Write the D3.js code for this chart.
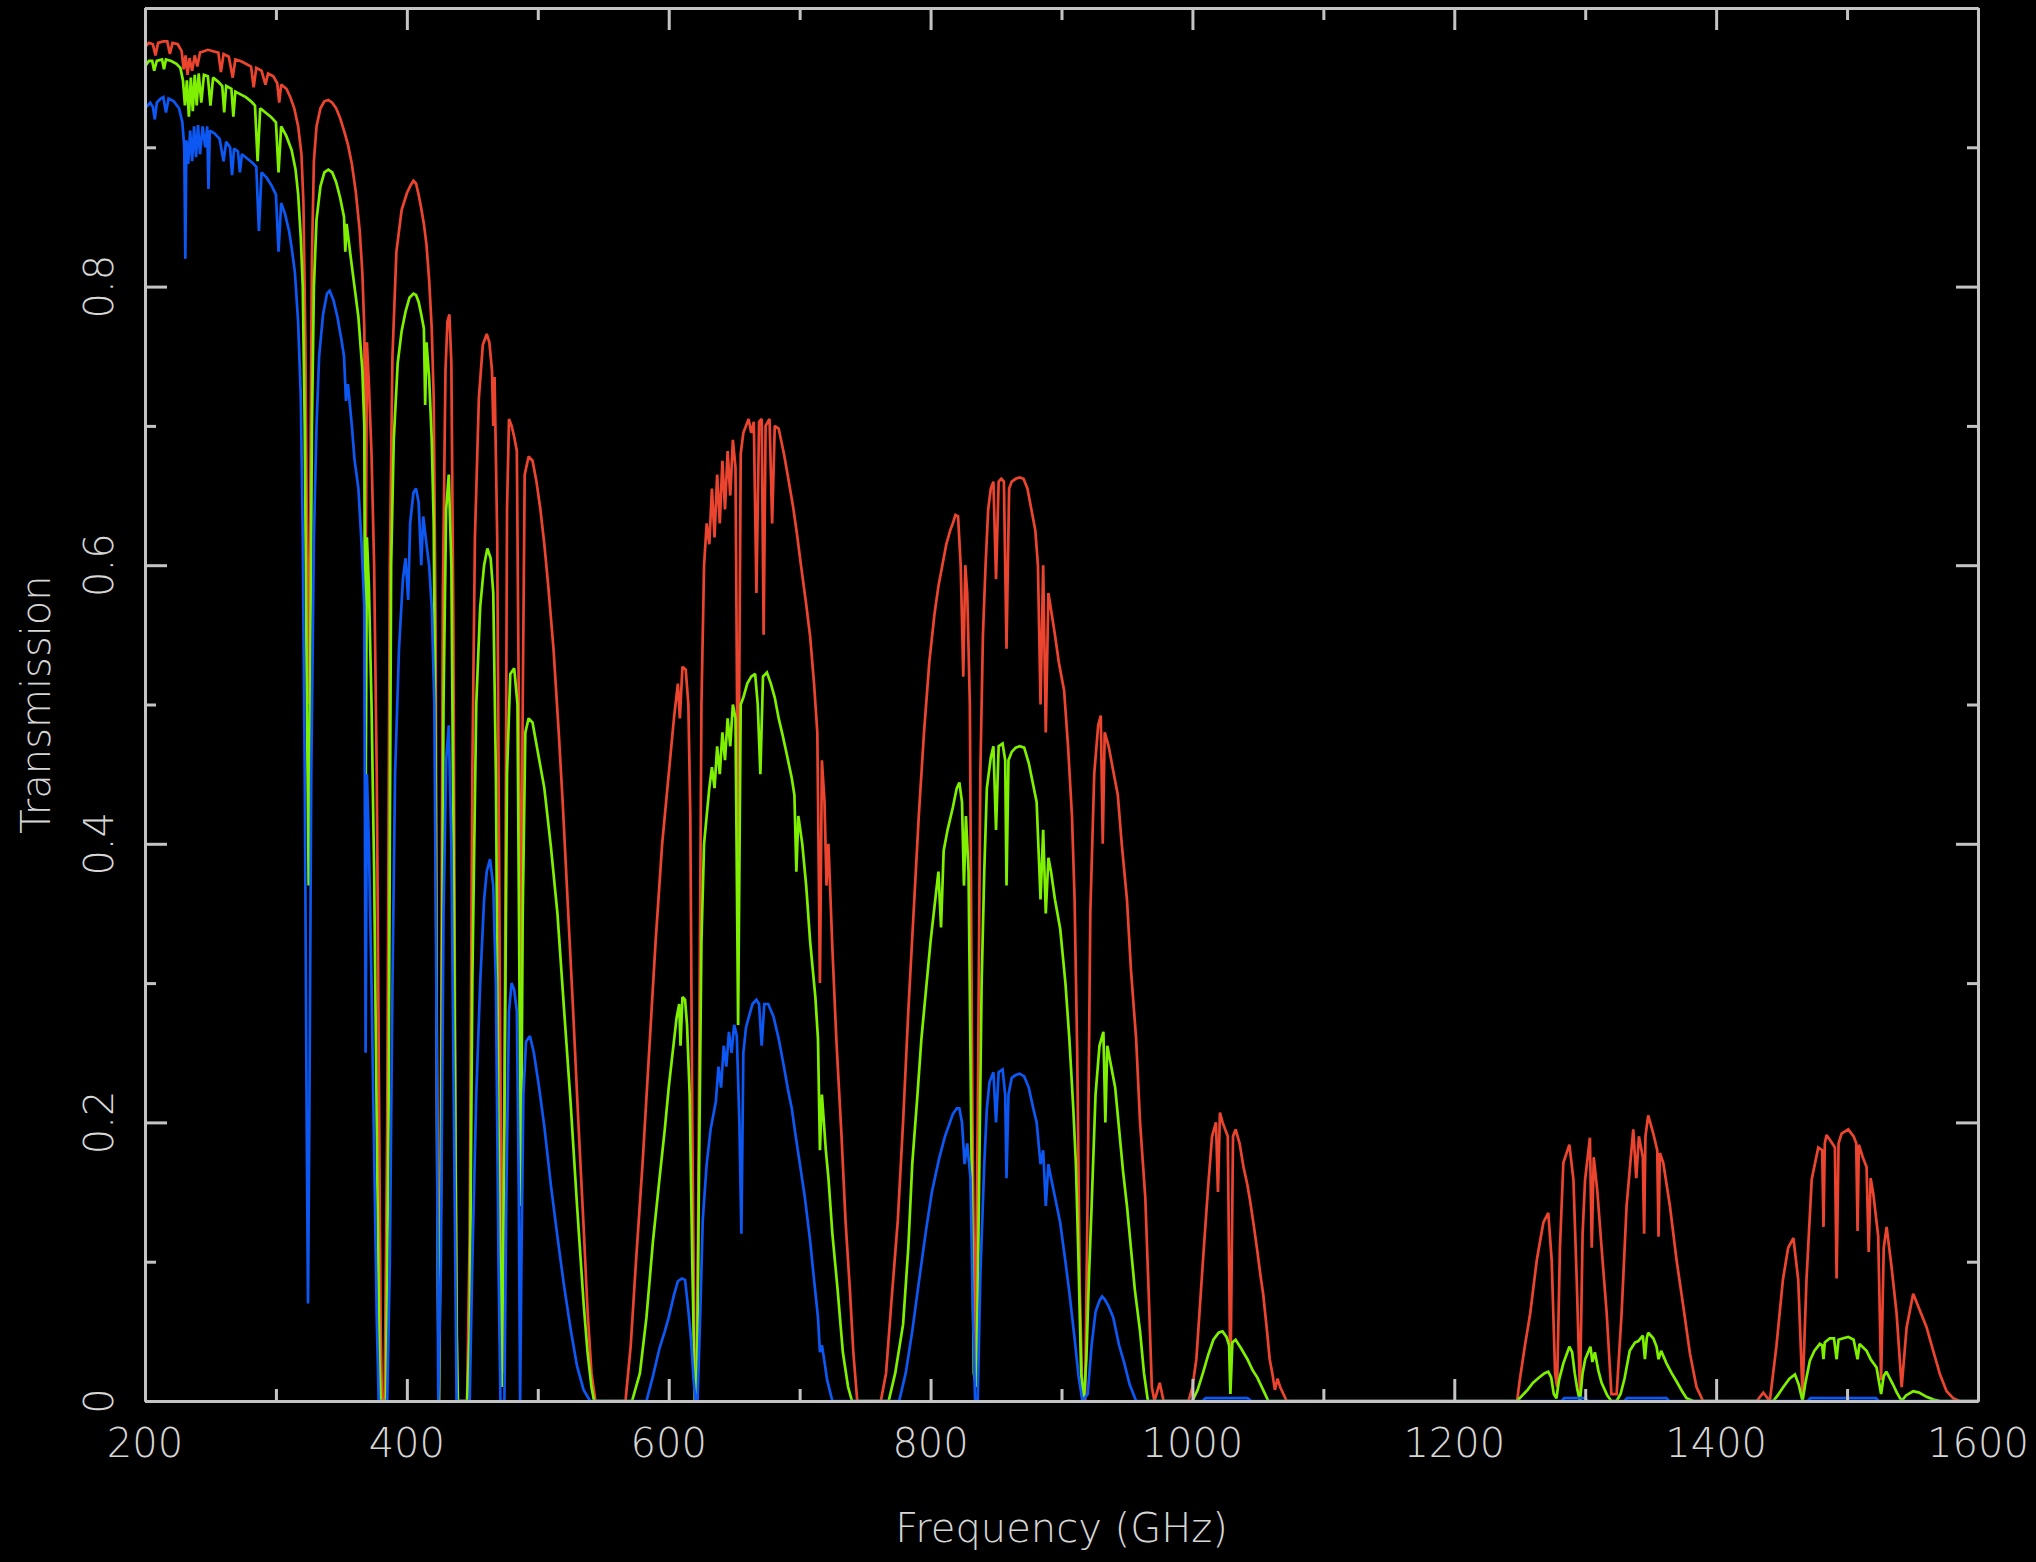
<!DOCTYPE html>
<html>
<head>
<meta charset="utf-8">
<title>Atmospheric transmission</title>
<script src="https://cdn.jsdelivr.net/npm/d3@7"></script>
<style>
  html, body { margin: 0; padding: 0; background: #000; }
  svg { display: block; }
  text { font-family: "DejaVu Sans", sans-serif; font-weight: 200; fill: #d6d6d6; }
</style>
</head>
<body>
<svg id="chart" width="2036" height="1562"></svg>
<script>
// Axis ticks and labels
const xMajorTicks = [200, 400, 600, 800, 1000, 1200, 1400, 1600];
const xMinorTicks = [300, 500, 700, 900, 1100, 1300, 1500];
const xTickLabels = ["200", "400", "600", "800", "1000", "1200", "1400", "1600"];
const yMajorTicks = [0, 0.2, 0.4, 0.6, 0.8, 1.0];
const yMinorTicks = [0.1, 0.3, 0.5, 0.7, 0.9];
const yLabelValues = [0, 0.2, 0.4, 0.6, 0.8];
const yTickLabels = ["0", "0.2", "0.4", "0.6", "0.8"];

// Transmission spectra, [frequency GHz, transmission], driest column first
const transLow = [
  [200,0.972],[203,0.975],[206,0.974],[208,0.966],[210,0.975],[214,0.976],[217,0.976],[219,0.967],[221,0.975],[225,0.974],
  [228,0.969],[229.5,0.956],[231,0.966],[232.5,0.952],[234,0.964],[236,0.955],[238,0.966],[240,0.958],[242,0.968],[245,0.969],
  [248,0.97],[252,0.969],[256,0.968],[258,0.954],[260,0.967],[264,0.965],[267,0.95],[269,0.963],[273,0.962],[277,0.96],
  [281,0.958],[283,0.943],[285,0.957],[289,0.955],[292,0.945],[294,0.953],[298,0.951],[301,0.946],[302.5,0.932],[304,0.945],
  [308,0.942],[311,0.936],[314,0.928],[317,0.915],[319.5,0.895],[321,0.86],[322.5,0.76],[324,0.58],[325,0.5],[326,0.62],
  [327.5,0.82],[329,0.89],[331,0.915],[334,0.928],[337,0.933],[340,0.934],[343,0.932],[346,0.928],[349,0.921],[352,0.912],
  [355,0.902],[358,0.888],[361,0.868],[364,0.84],[366,0.81],[367.5,0.77],[368.5,0.58],[369.5,0.76],[371,0.73],[373,0.68],
  [375,0.6],[377,0.45],[378.5,0.25],[380,0.05],[381,0],[383,0],[385,0.2],[387,0.6],[389,0.75],[392,0.825],
  [396,0.855],[400,0.867],[403,0.873],[405,0.876],[407,0.874],[409,0.866],[411,0.856],[413,0.845],[415,0.83],[417,0.805],
  [419,0.77],[420.5,0.72],[422,0.55],[423,0.22],[424.5,0],[426,0.2],[427.5,0.58],[429.5,0.74],[431,0.775],[432.5,0.78],
  [434,0.745],[435.5,0.56],[437,0.22],[438.5,0],[446,0],[448,0.12],[450,0.45],[452,0.62],[455,0.72],[458,0.758],
  [461,0.766],[463,0.76],[465,0.74],[466,0.7],[467,0.735],[469,0.62],[471,0.3],[473,0.02],[475,0.3],[476.5,0.64],
  [478,0.705],[480,0.7],[482,0.692],[484,0.682],[485.5,0.5],[487,0.28],[488.5,0.5],[490,0.665],[493,0.678],[496,0.675],
  [499,0.66],[502,0.64],[505,0.615],[508,0.585],[512,0.54],[516,0.48],[519,0.43],[523,0.355],[527,0.28],[531,0.2],
  [535,0.125],[538,0.065],[541,0.02],[544,0],
  [567,0],[571,0.04],[575,0.1],[580,0.17],[585,0.25],[590,0.33],[595,0.4],[600,0.45],[604,0.49],[607,0.515],
  [608.5,0.49],[610.5,0.527],[613,0.525],[615,0.5],[616.5,0.42],[618,0.2],[620,0],[621.5,0],[623,0.2],[625,0.5],
  [627,0.6],[629,0.63],[631,0.615],[633,0.655],[635,0.62],[637,0.665],[639,0.63],[641,0.675],[643,0.64],[645,0.682],
  [647,0.65],[649,0.69],[651,0.67],[653,0.39],[655,0.68],[657,0.695],[659,0.7],[661,0.705],[663,0.695],[665,0.703],
  [667,0.58],[669,0.703],[671,0.705],[672.5,0.55],[674,0.7],[677,0.705],[679,0.63],[681,0.7],[684,0.698],[688,0.68],
  [691,0.664],[695,0.642],[698,0.622],[701,0.6],[705,0.572],[708,0.549],[711,0.515],[713.5,0.48],[715.5,0.3],[717,0.46],
  [719,0.43],[720.5,0.37],[722,0.4],[725,0.325],[728,0.26],[732,0.19],[735,0.13],[738.5,0.078],[741,0.035],[744,0],
  [762,0],[766,0.02],[770,0.07],[775,0.13],[779,0.2],[783,0.28],[787,0.35],[791,0.42],[795,0.48],[799,0.53],
  [803,0.565],[806,0.585],[809,0.6],[812,0.615],[815,0.625],[817,0.63],[819,0.636],[821,0.635],[823,0.6],[825,0.52],
  [826.5,0.6],[828,0.58],[830,0.5],[832,0.2],[834,0.02],[836,0.2],[838,0.45],[840,0.55],[842,0.6],[844,0.64],
  [846,0.655],[848,0.66],[850,0.59],[852,0.66],[854,0.662],[856,0.66],[858,0.54],[860,0.655],[862,0.66],[865,0.662],
  [868,0.663],[871,0.662],[874,0.655],[877,0.64],[880,0.625],[882,0.6],[884,0.5],[886,0.6],[888,0.48],[890,0.58],
  [892,0.568],[895,0.55],[898,0.53],[902,0.51],[905,0.47],[908,0.42],[910,0.36],[912,0.25],[914,0.08],[916,0],
  [918,0],[920,0.15],[922,0.35],[925,0.45],[928,0.485],[930,0.492],[931.5,0.4],[933,0.48],[936,0.47],[940,0.45],
  [943,0.435],[946,0.4],[950,0.36],[953,0.31],[957,0.26],[960,0.2],[964,0.146],[966.5,0.08],[969,0.01],[971,0],
  [975,0.013],[978,0],
  [997,0],[1000,0.01],[1003,0.03],[1008,0.1],[1012,0.154],[1015,0.19],[1018,0.2],[1019.5,0.15],[1021,0.207],[1023,0.2],
  [1025,0.195],[1027,0.19],[1029,0.01],[1031,0.19],[1033,0.195],[1036,0.185],[1039,0.168],[1042,0.155],[1044,0.144],[1047,0.125],
  [1049.5,0.108],[1052,0.09],[1054,0.077],[1057,0.05],[1059,0.03],[1061,0.02],[1063,0.008],[1065,0.016],[1067,0.01],[1072,0],
  [1248,0],[1250,0.015],[1254,0.04],[1258,0.063],[1263,0.101],[1268,0.128],[1271.8,0.135],[1274.4,0.101],[1277,0.02],[1278.5,0.01],
  [1280.7,0.11],[1283.3,0.171],[1287.9,0.184],[1291,0.159],[1293.5,0.087],[1296,0.005],[1298,0.12],[1299.9,0.159],[1303.6,0.189],[1305,0.11],
  [1306.5,0.175],[1309.2,0.151],[1312.5,0.11],[1316.4,0.063],[1320,0.005],[1324,0.005],[1327.8,0.063],[1331.6,0.14],[1336.7,0.195],[1339,0.16],
  [1341,0.19],[1344,0.175],[1345,0.12],[1346,0.19],[1348.1,0.205],[1352,0.192],[1355,0.18],[1356,0.118],[1357,0.178],[1359.6,0.171],
  [1364.7,0.14],[1369.8,0.101],[1374.9,0.068],[1380,0.034],[1385,0.01],[1390,0],
  [1431,0],[1436,0.006],[1441,0],[1446,0.039],[1451,0.087],[1455,0.11],[1459,0.117],[1462.7,0.087],[1466,0.005],[1469,0.087],
  [1473,0.159],[1478,0.182],[1481,0.18],[1482,0.125],[1483,0.185],[1484.3,0.191],[1488,0.186],[1490.7,0.182],[1492,0.088],[1493.5,0.185],
  [1495.8,0.192],[1500.9,0.195],[1505,0.19],[1507,0.185],[1508,0.122],[1509,0.184],[1512,0.175],[1514.9,0.168],[1516.5,0.107],[1518,0.16],
  [1520,0.149],[1523.8,0.118],[1526,0.015],[1528,0.11],[1530.2,0.125],[1534,0.096],[1537.8,0.063],[1541.7,0.01],[1545.5,0.053],[1550.5,0.077],
  [1555.6,0.065],[1560.7,0.053],[1565.8,0.036],[1571,0.019],[1576,0.007],[1581,0.002],[1586,0],[1600,0]
];

const transMid = [
  [200,0.958],[203,0.962],[205.5,0.962],[207,0.955],[209,0.962],[213,0.963],[214.5,0.956],[216,0.963],[220,0.962],[224,0.96],
  [227,0.957],[229,0.948],[230.5,0.93],[232,0.948],[233.5,0.922],[235,0.95],[236.5,0.926],[238,0.952],[239.5,0.93],[241,0.953],
  [243,0.932],[245,0.952],[248,0.951],[250,0.93],[252,0.95],[256,0.947],[259,0.944],[260.5,0.925],[262,0.944],[266,0.942],
  [267.5,0.922],[269,0.94],[273,0.938],[277,0.936],[281,0.933],[284,0.93],[286,0.89],[288,0.928],[292,0.925],[296,0.922],
  [300,0.918],[302,0.882],[304,0.915],[308,0.908],[312,0.898],[315,0.884],[317,0.866],[319,0.835],[320.5,0.8],[322,0.7],
  [323.5,0.52],[325,0.37],[326,0.5],[327.5,0.7],[329,0.8],[331,0.848],[334,0.872],[337,0.882],[340,0.884],[343,0.882],
  [346,0.875],[349,0.864],[352,0.85],[353,0.825],[354,0.845],[357,0.822],[360,0.8],[363,0.778],[366,0.74],[367.5,0.7],
  [368.5,0.42],[369.5,0.62],[371,0.585],[373,0.5],[375,0.38],[377,0.2],[379,0.03],[380,0],[384,0],[386,0.2],
  [388,0.6],[390,0.69],[393,0.745],[396,0.768],[399,0.782],[402,0.792],[405,0.795],[407,0.794],[409,0.789],[411,0.78],
  [413,0.77],[414,0.715],[415,0.76],[417,0.735],[419,0.69],[420.5,0.63],[422,0.45],[423.5,0.1],[424.5,0],[426,0.15],
  [428,0.5],[430,0.64],[432,0.665],[434,0.6],[436,0.35],[438,0.05],[439,0],[446,0],[448,0.05],[450,0.3],
  [453,0.5],[456,0.57],[459,0.6],[461.5,0.612],[464,0.605],[466,0.58],[468,0.45],[470,0.2],[472.5,0.01],[474.5,0.2],
  [476.5,0.45],[479,0.522],[482,0.526],[484.5,0.5],[486,0.3],[487,0.14],[488.5,0.35],[490.5,0.48],[493,0.49],[496,0.487],
  [500,0.466],[505,0.44],[510,0.398],[515,0.35],[520,0.282],[525,0.215],[530,0.14],[535,0.07],[538,0.035],[541,0.01],
  [543,0],
  [572,0],[578,0.02],[583,0.06],[588,0.115],[593,0.16],[597,0.195],[600,0.225],[603,0.25],[606,0.275],[608,0.285],
  [609,0.255],[610.5,0.29],[612.5,0.288],[614,0.27],[616,0.22],[618,0.1],[620,0],[621.5,0],[623,0.15],[625,0.33],
  [627,0.4],[629,0.42],[631,0.44],[633,0.455],[635,0.44],[637,0.47],[639,0.45],[641,0.48],[643,0.46],[645,0.49],
  [647,0.47],[649,0.5],[651,0.49],[653,0.27],[655,0.5],[657,0.505],[660,0.515],[663,0.52],[666,0.522],[668,0.5],
  [670,0.45],[672,0.52],[675,0.523],[678,0.515],[681,0.505],[684,0.49],[687,0.478],[690,0.465],[694,0.447],[696,0.435],
  [697.5,0.38],[699,0.42],[702,0.4],[705,0.37],[708,0.33],[712,0.29],[714,0.26],[715.5,0.18],[717,0.22],[720,0.18],
  [722,0.16],[725,0.12],[729,0.08],[733,0.035],[737,0.01],[740,0],
  [768,0],[773,0.02],[779,0.055],[783,0.11],[786,0.17],[790,0.22],[793,0.26],[797,0.3],[800,0.33],[803,0.355],
  [806,0.38],[808,0.34],[810,0.395],[813,0.41],[817,0.426],[820,0.44],[822,0.444],[824,0.43],[825.5,0.37],[827,0.42],
  [829,0.38],[831,0.2],[833,0.02],[835,0.01],[837,0.15],[839,0.3],[841,0.38],[843,0.44],[846,0.462],[848,0.47],
  [850,0.41],[852,0.47],[855,0.472],[857,0.46],[858,0.37],[859.5,0.46],[862,0.466],[865,0.469],[868,0.47],[871.5,0.469],
  [875,0.458],[878,0.444],[881,0.43],[884,0.36],[886,0.41],[888,0.35],[890,0.39],[892,0.38],[895,0.36],[899,0.339],
  [903,0.3],[906,0.26],[909,0.21],[911,0.17],[913,0.1],[915,0.02],[917,0],[919,0.03],[921,0.09],[923,0.14],
  [926,0.22],[929,0.255],[932,0.265],[933.5,0.2],[935,0.255],[938,0.24],[941,0.225],[944,0.195],[947,0.165],[950,0.14],
  [953,0.11],[956,0.08],[960,0.05],[963,0.02],[966,0],
  [1000,0],[1004,0.008],[1008,0.02],[1012,0.033],[1016,0.044],[1020,0.049],[1023,0.05],[1026,0.046],[1028,0.04],[1029,0.005],
  [1030.5,0.042],[1033,0.044],[1037,0.038],[1042,0.03],[1046,0.022],[1049.5,0.017],[1054,0.008],[1058,0],
  [1248,0],[1252,0.004],[1256,0.008],[1260,0.013],[1265,0.017],[1269,0.02],[1271.8,0.021],[1274,0.017],[1276,0.005],[1278,0.002],
  [1280,0.015],[1283.3,0.027],[1287.9,0.039],[1290,0.035],[1292,0.02],[1294,0.008],[1296,0],[1298,0.02],[1300,0.03],[1304,0.039],
  [1305.5,0.028],[1307.4,0.035],[1310,0.022],[1312.5,0.013],[1316.8,0.004],[1320,0],[1324,0],[1327,0.005],[1330,0.016],[1334,0.036],
  [1338,0.042],[1340.6,0.043],[1344,0.047],[1345.6,0.03],[1347,0.045],[1348.1,0.049],[1352,0.045],[1354.5,0.039],[1356,0.03],[1358,0.036],
  [1362.1,0.027],[1366,0.02],[1369.8,0.014],[1374,0.007],[1377.4,0.002],[1382.5,0],
  [1443.6,0],[1447,0.004],[1451.3,0.01],[1456,0.016],[1460.2,0.019],[1463,0.012],[1466,0],[1468,0.012],[1471.6,0.029],[1475,0.036],
  [1479.2,0.041],[1481,0.04],[1482,0.03],[1483,0.042],[1486.8,0.045],[1490,0.045],[1492,0.03],[1493.5,0.044],[1497,0.045],[1500.9,0.046],
  [1505,0.044],[1508,0.03],[1509.5,0.041],[1514.9,0.036],[1518,0.03],[1522.5,0.024],[1526,0.005],[1528,0.018],[1530,0.021],[1535,0.012],
  [1538,0.006],[1541.7,0],[1545,0.004],[1550.5,0.007],[1555,0.006],[1560.7,0.003],[1566,0.001],[1571,0],[1600,0]
];

const transHigh = [
  [200,0.928],[204,0.932],[206,0.929],[207.5,0.92],[209,0.932],[212,0.935],[214,0.936],[216,0.925],[218,0.935],[222,0.933],
  [226,0.928],[228.5,0.918],[230,0.9],[230.8,0.82],[231.6,0.905],[233,0.888],[234.5,0.912],[236,0.89],[237.5,0.915],[239,0.893],
  [240.5,0.916],[242,0.895],[244,0.915],[246,0.9],[247.5,0.915],[248.5,0.87],[249.5,0.912],[253,0.91],[257,0.906],[260,0.89],
  [262,0.904],[265,0.9],[266.5,0.88],[268,0.899],[271,0.897],[272.5,0.882],[274,0.895],[278,0.892],[282,0.889],[285,0.886],
  [287,0.84],[289,0.882],[293,0.878],[297,0.872],[300,0.866],[302,0.825],[304,0.86],[307,0.852],[310,0.84],[312,0.828],
  [314.5,0.81],[317,0.774],[319,0.72],[320.5,0.62],[322,0.45],[323.5,0.2],[324.5,0.07],[325.5,0.2],[327,0.45],[329,0.62],
  [331,0.7],[333,0.75],[336,0.78],[339,0.795],[341,0.797],[344,0.79],[347,0.778],[350,0.762],[352,0.75],[353.5,0.718],
  [355,0.73],[358,0.7],[360,0.676],[363,0.655],[365.5,0.614],[367.5,0.57],[368.5,0.25],[369.5,0.45],[371,0.4],[373,0.3],
  [375,0.18],[377,0.06],[378.5,0],[385,0],[387,0.1],[389,0.3],[391,0.45],[394,0.54],[397,0.59],[399,0.605],
  [401,0.575],[402.5,0.63],[405,0.652],[407,0.655],[409,0.645],[411,0.6],[412.5,0.635],[415,0.615],[417,0.6],[419,0.57],
  [421,0.5],[422.5,0.3],[424,0],[426,0.1],[428,0.35],[430,0.46],[432,0.485],[434,0.4],[436,0.2],[438,0],
  [448,0],[450,0.1],[453,0.22],[456,0.3],[459,0.36],[461,0.38],[463.5,0.389],[466,0.37],[468,0.3],[470,0.1],
  [471.5,0],[474.5,0],[476,0.15],[478,0.28],[480,0.3],[482,0.295],[484,0.28],[485.5,0.15],[486.5,0],[487.5,0.1],
  [489,0.22],[491,0.258],[494,0.262],[497,0.25],[501,0.225],[505,0.197],[510,0.155],[515,0.118],[520,0.083],[525,0.052],
  [530,0.025],[535,0.008],[540,0],
  [583,0],[588,0.018],[593,0.038],[597,0.05],[600,0.06],[604,0.076],[607,0.086],[610,0.088],[612.5,0.087],[615,0.065],
  [617,0.045],[619,0.015],[620.5,0],[622,0],[624,0.06],[626,0.13],[629,0.17],[632,0.195],[636,0.215],[638,0.24],
  [640,0.225],[642,0.255],[644,0.24],[646,0.265],[648,0.25],[650,0.27],[652,0.262],[654,0.2],[655.5,0.12],[657,0.25],
  [659,0.268],[661,0.275],[664,0.285],[667,0.288],[669,0.285],[671,0.255],[673,0.285],[676,0.285],[680,0.276],[684,0.26],
  [688,0.24],[691,0.224],[694,0.21],[697,0.19],[701,0.165],[704,0.146],[708,0.115],[711,0.087],[714,0.06],[715.5,0.035],
  [717,0.04],[719,0.028],[721,0.015],[725,0],
  [776,0],[781,0.02],[786,0.05],[791,0.085],[796.6,0.123],[801,0.15],[806.5,0.174],[811,0.19],[817,0.206],[820,0.21],
  [822,0.21],[824,0.2],[826,0.17],[828,0.185],[830.5,0.16],[832,0.08],[834,0],[836,0],[838,0.09],[841,0.17],
  [843,0.21],[845,0.229],[848,0.236],[850,0.2],[852,0.236],[855,0.238],[857,0.22],[858,0.16],[859.5,0.22],[862,0.232],
  [865,0.234],[868,0.235],[871.5,0.233],[875,0.225],[878,0.212],[881,0.2],[884,0.17],[886,0.18],[888,0.14],[890,0.17],
  [892,0.16],[896,0.142],[899,0.128],[903,0.1],[906,0.078],[910,0.045],[913,0.018],[916,0],[920,0.005],[923,0.04],
  [926,0.064],[929,0.072],[931,0.075],[933,0.073],[936,0.068],[939.5,0.06],[944,0.04],[948,0.027],[952,0.012],[957,0],
  [1008,0],[1010,0.002],[1042,0.002],[1045,0],[1282,0],[1284,0.002],[1300,0.002],[1302,0],[1330,0],[1332,0.002],
  [1362,0.002],[1364,0],[1470,0],[1472,0.002],[1522,0.002],[1524,0],[1600,0]
];

const seriesColors = ["#ec452f", "#7ff000", "#0d58f2"];

// Layout
const width = 2036, height = 1562;
const margin = { left: 145, right: 58, top: 8, bottom: 161 };
const plotW = width - margin.left - margin.right;
const plotH = height - margin.top - margin.bottom;

const svg = d3.select("#chart");
svg.append("rect").attr("width", width).attr("height", height).attr("fill", "#000");

const x = d3.scaleLinear().domain([200, 1600]).range([margin.left, margin.left + plotW]);
const y = d3.scaleLinear().domain([0, 1]).range([margin.top + plotH, margin.top]);

svg.append("clipPath").attr("id", "plotClip")
  .append("rect")
  .attr("x", margin.left).attr("y", margin.top - 4)
  .attr("width", plotW).attr("height", plotH + 4);

const line = d3.line().x(d => x(d[0])).y(d => y(d[1]));

const curves = svg.append("g").attr("clip-path", "url(#plotClip)");
[transLow, transMid, transHigh].forEach((series, i) => {
  curves.append("path")
    .datum(series)
    .attr("d", line)
    .attr("fill", "none")
    .attr("stroke", seriesColors[i])
    .attr("stroke-width", 2.7)
    .attr("stroke-linejoin", "miter")
    .attr("stroke-miterlimit", 2);
});

// Frame with inward ticks on all four sides
const axisColor = "#c4c4c4";
function styleAxis(g) {
  g.selectAll("path.domain").attr("stroke", axisColor).attr("stroke-width", 3);
  g.selectAll(".tick line").attr("stroke", axisColor).attr("stroke-width", 3);
  g.selectAll(".tick text").remove();
}
const bottomY = margin.top + plotH, topY = margin.top;
const leftX = margin.left, rightX = margin.left + plotW;

function addX(axisFn, yPos, values, len) {
  svg.append("g").attr("transform", `translate(0,${yPos})`)
    .call(axisFn(x).tickValues(values).tickSizeInner(-len).tickSizeOuter(0).tickFormat(""))
    .call(styleAxis);
}
function addY(axisFn, xPos, values, len) {
  svg.append("g").attr("transform", `translate(${xPos},0)`)
    .call(axisFn(y).tickValues(values).tickSizeInner(-len).tickSizeOuter(0).tickFormat(""))
    .call(styleAxis);
}
addX(d3.axisBottom, bottomY, xMinorTicks, 12);
addX(d3.axisBottom, bottomY, xMajorTicks, 22);
addX(d3.axisTop, topY, xMinorTicks, 12);
addX(d3.axisTop, topY, xMajorTicks, 22);
addY(d3.axisLeft, leftX, yMinorTicks, 11);
addY(d3.axisLeft, leftX, yMajorTicks, 22);
addY(d3.axisRight, rightX, yMinorTicks, 11);
addY(d3.axisRight, rightX, yMajorTicks, 22);

// Tick labels
const fontSize = 40;
svg.append("g").selectAll("text")
  .data(xMajorTicks)
  .join("text")
  .attr("x", d => x(d))
  .attr("y", bottomY + 56)
  .attr("text-anchor", "middle")
  .attr("font-size", fontSize)
  .text((d, i) => xTickLabels[i]);

svg.append("g").selectAll("text")
  .data(yLabelValues)
  .join("text")
  .attr("transform", d => `translate(${leftX - 32},${y(d)}) rotate(-90)`)
  .attr("text-anchor", "middle")
  .attr("font-size", fontSize)
  .text((d, i) => yTickLabels[i]);

// Axis titles
svg.append("text")
  .attr("x", (leftX + rightX) / 2)
  .attr("y", 1542)
  .attr("text-anchor", "middle")
  .attr("font-size", fontSize)
  .text("Frequency (GHz)");

svg.append("text")
  .attr("transform", `translate(50,${(topY + bottomY) / 2}) rotate(-90)`)
  .attr("text-anchor", "middle")
  .attr("font-size", fontSize)
  .text("Transmission");
</script>
</body>
</html>
